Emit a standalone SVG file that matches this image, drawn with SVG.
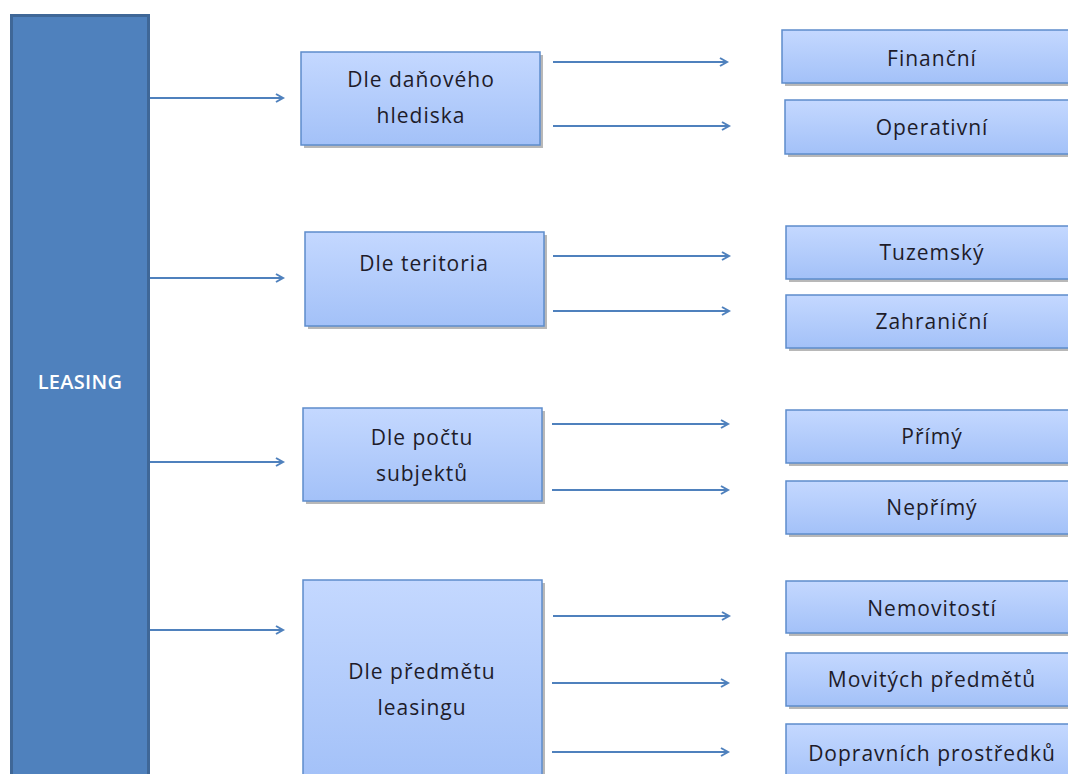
<svg xmlns="http://www.w3.org/2000/svg" width="1068" height="774" viewBox="0 0 1068 774">
<defs>
<linearGradient id="g" x1="0" y1="0" x2="0" y2="1">
<stop offset="0" stop-color="#c4d8ff"/>
<stop offset="1" stop-color="#a3c1f8"/>
</linearGradient>
<marker id="arr" markerWidth="12" markerHeight="12" refX="9" refY="5" orient="auto" markerUnits="userSpaceOnUse">
<path d="M2,1 L9,5 L2,9" fill="none" stroke="#4f81bd" stroke-width="2"/>
</marker>
</defs>
<style>
.box{fill:url(#g);stroke:#5d8ccc;stroke-width:1.5}
.sh{fill:#9a9a9a;opacity:0.7}
.t{font-family:"Open Sans",Lato,sans-serif;font-size:21px;letter-spacing:1px;fill:#1e1c2a;text-anchor:middle}
.c{stroke:#4f81bd;stroke-width:2;fill:none;marker-end:url(#arr)}
</style>
<rect width="1068" height="774" fill="#ffffff"/>
<g id="leasing">
<rect x="10" y="14" width="140" height="770" fill="#3f6797"/>
<rect x="13" y="17" width="134" height="770" fill="#4f81bd"/>
<text x="80" y="389" font-family="'Open Sans',Lato,sans-serif" font-size="20" font-weight="600" letter-spacing="0.3" fill="#ffffff" text-anchor="middle">LEASING</text>
</g>
<g id="connectors">
<line class="c" x1="150" y1="98" x2="283" y2="98"/>
<line class="c" x1="150" y1="278" x2="283" y2="278"/>
<line class="c" x1="150" y1="462" x2="283" y2="462"/>
<line class="c" x1="150" y1="630" x2="283" y2="630"/>
<line class="c" x1="553" y1="62" x2="727" y2="62"/>
<line class="c" x1="553" y1="126" x2="729" y2="126"/>
<line class="c" x1="553" y1="256" x2="729" y2="256"/>
<line class="c" x1="553" y1="311" x2="729" y2="311"/>
<line class="c" x1="552" y1="424" x2="728" y2="424"/>
<line class="c" x1="552" y1="490" x2="728" y2="490"/>
<line class="c" x1="553" y1="616" x2="729" y2="616"/>
<line class="c" x1="552" y1="683" x2="728" y2="683"/>
<line class="c" x1="552" y1="752" x2="728" y2="752"/>
</g>
<g id="dle-danoveho">
<rect class="sh" x="304" y="55" width="239" height="93"/>
<rect class="box" x="301" y="52" width="239" height="93"/>
<text class="t" x="421" y="87">Dle daňového</text>
<text class="t" x="421" y="123">hlediska</text>
</g>
<g id="dle-teritoria">
<rect class="sh" x="308" y="235" width="239" height="94"/>
<rect class="box" x="305" y="232" width="239" height="94"/>
<text class="t" x="424" y="271">Dle teritoria</text>
</g>
<g id="dle-poctu">
<rect class="sh" x="306" y="411" width="239" height="93"/>
<rect class="box" x="303" y="408" width="239" height="93"/>
<text class="t" x="422" y="445">Dle počtu</text>
<text class="t" x="422" y="481">subjektů</text>
</g>
<g id="dle-predmetu">
<rect class="sh" x="306" y="583" width="239" height="200"/>
<rect class="box" x="303" y="580" width="239" height="200"/>
<text class="t" x="422" y="679">Dle předmětu</text>
<text class="t" x="422" y="715">leasingu</text>
</g>
<g id="financni">
<rect class="sh" x="785" y="33" width="290" height="53"/>
<rect class="box" x="782" y="30" width="290" height="53"/>
<text class="t" x="932" y="66">Finanční</text>
</g>
<g id="operativni">
<rect class="sh" x="788" y="103" width="290" height="54"/>
<rect class="box" x="785" y="100" width="290" height="54"/>
<text class="t" x="932" y="135">Operativní</text>
</g>
<g id="tuzemsky">
<rect class="sh" x="789" y="229" width="290" height="53"/>
<rect class="box" x="786" y="226" width="290" height="53"/>
<text class="t" x="932" y="260">Tuzemský</text>
</g>
<g id="zahranicni">
<rect class="sh" x="789" y="298" width="290" height="53"/>
<rect class="box" x="786" y="295" width="290" height="53"/>
<text class="t" x="932" y="329">Zahraniční</text>
</g>
<g id="primy">
<rect class="sh" x="789" y="413" width="290" height="53"/>
<rect class="box" x="786" y="410" width="290" height="53"/>
<text class="t" x="932" y="444">Přímý</text>
</g>
<g id="neprimy">
<rect class="sh" x="789" y="484" width="290" height="53"/>
<rect class="box" x="786" y="481" width="290" height="53"/>
<text class="t" x="932" y="515">Nepřímý</text>
</g>
<g id="nemovitosti">
<rect class="sh" x="789" y="584" width="290" height="52"/>
<rect class="box" x="786" y="581" width="290" height="52"/>
<text class="t" x="932" y="616">Nemovitostí</text>
</g>
<g id="movitych">
<rect class="sh" x="789" y="656" width="290" height="53"/>
<rect class="box" x="786" y="653" width="290" height="53"/>
<text class="t" x="932" y="687">Movitých předmětů</text>
</g>
<g id="dopravnich">
<rect class="sh" x="789" y="727" width="290" height="60"/>
<rect class="box" x="786" y="724" width="290" height="60"/>
<text class="t" x="932" y="761">Dopravních prostředků</text>
</g>
</svg>
